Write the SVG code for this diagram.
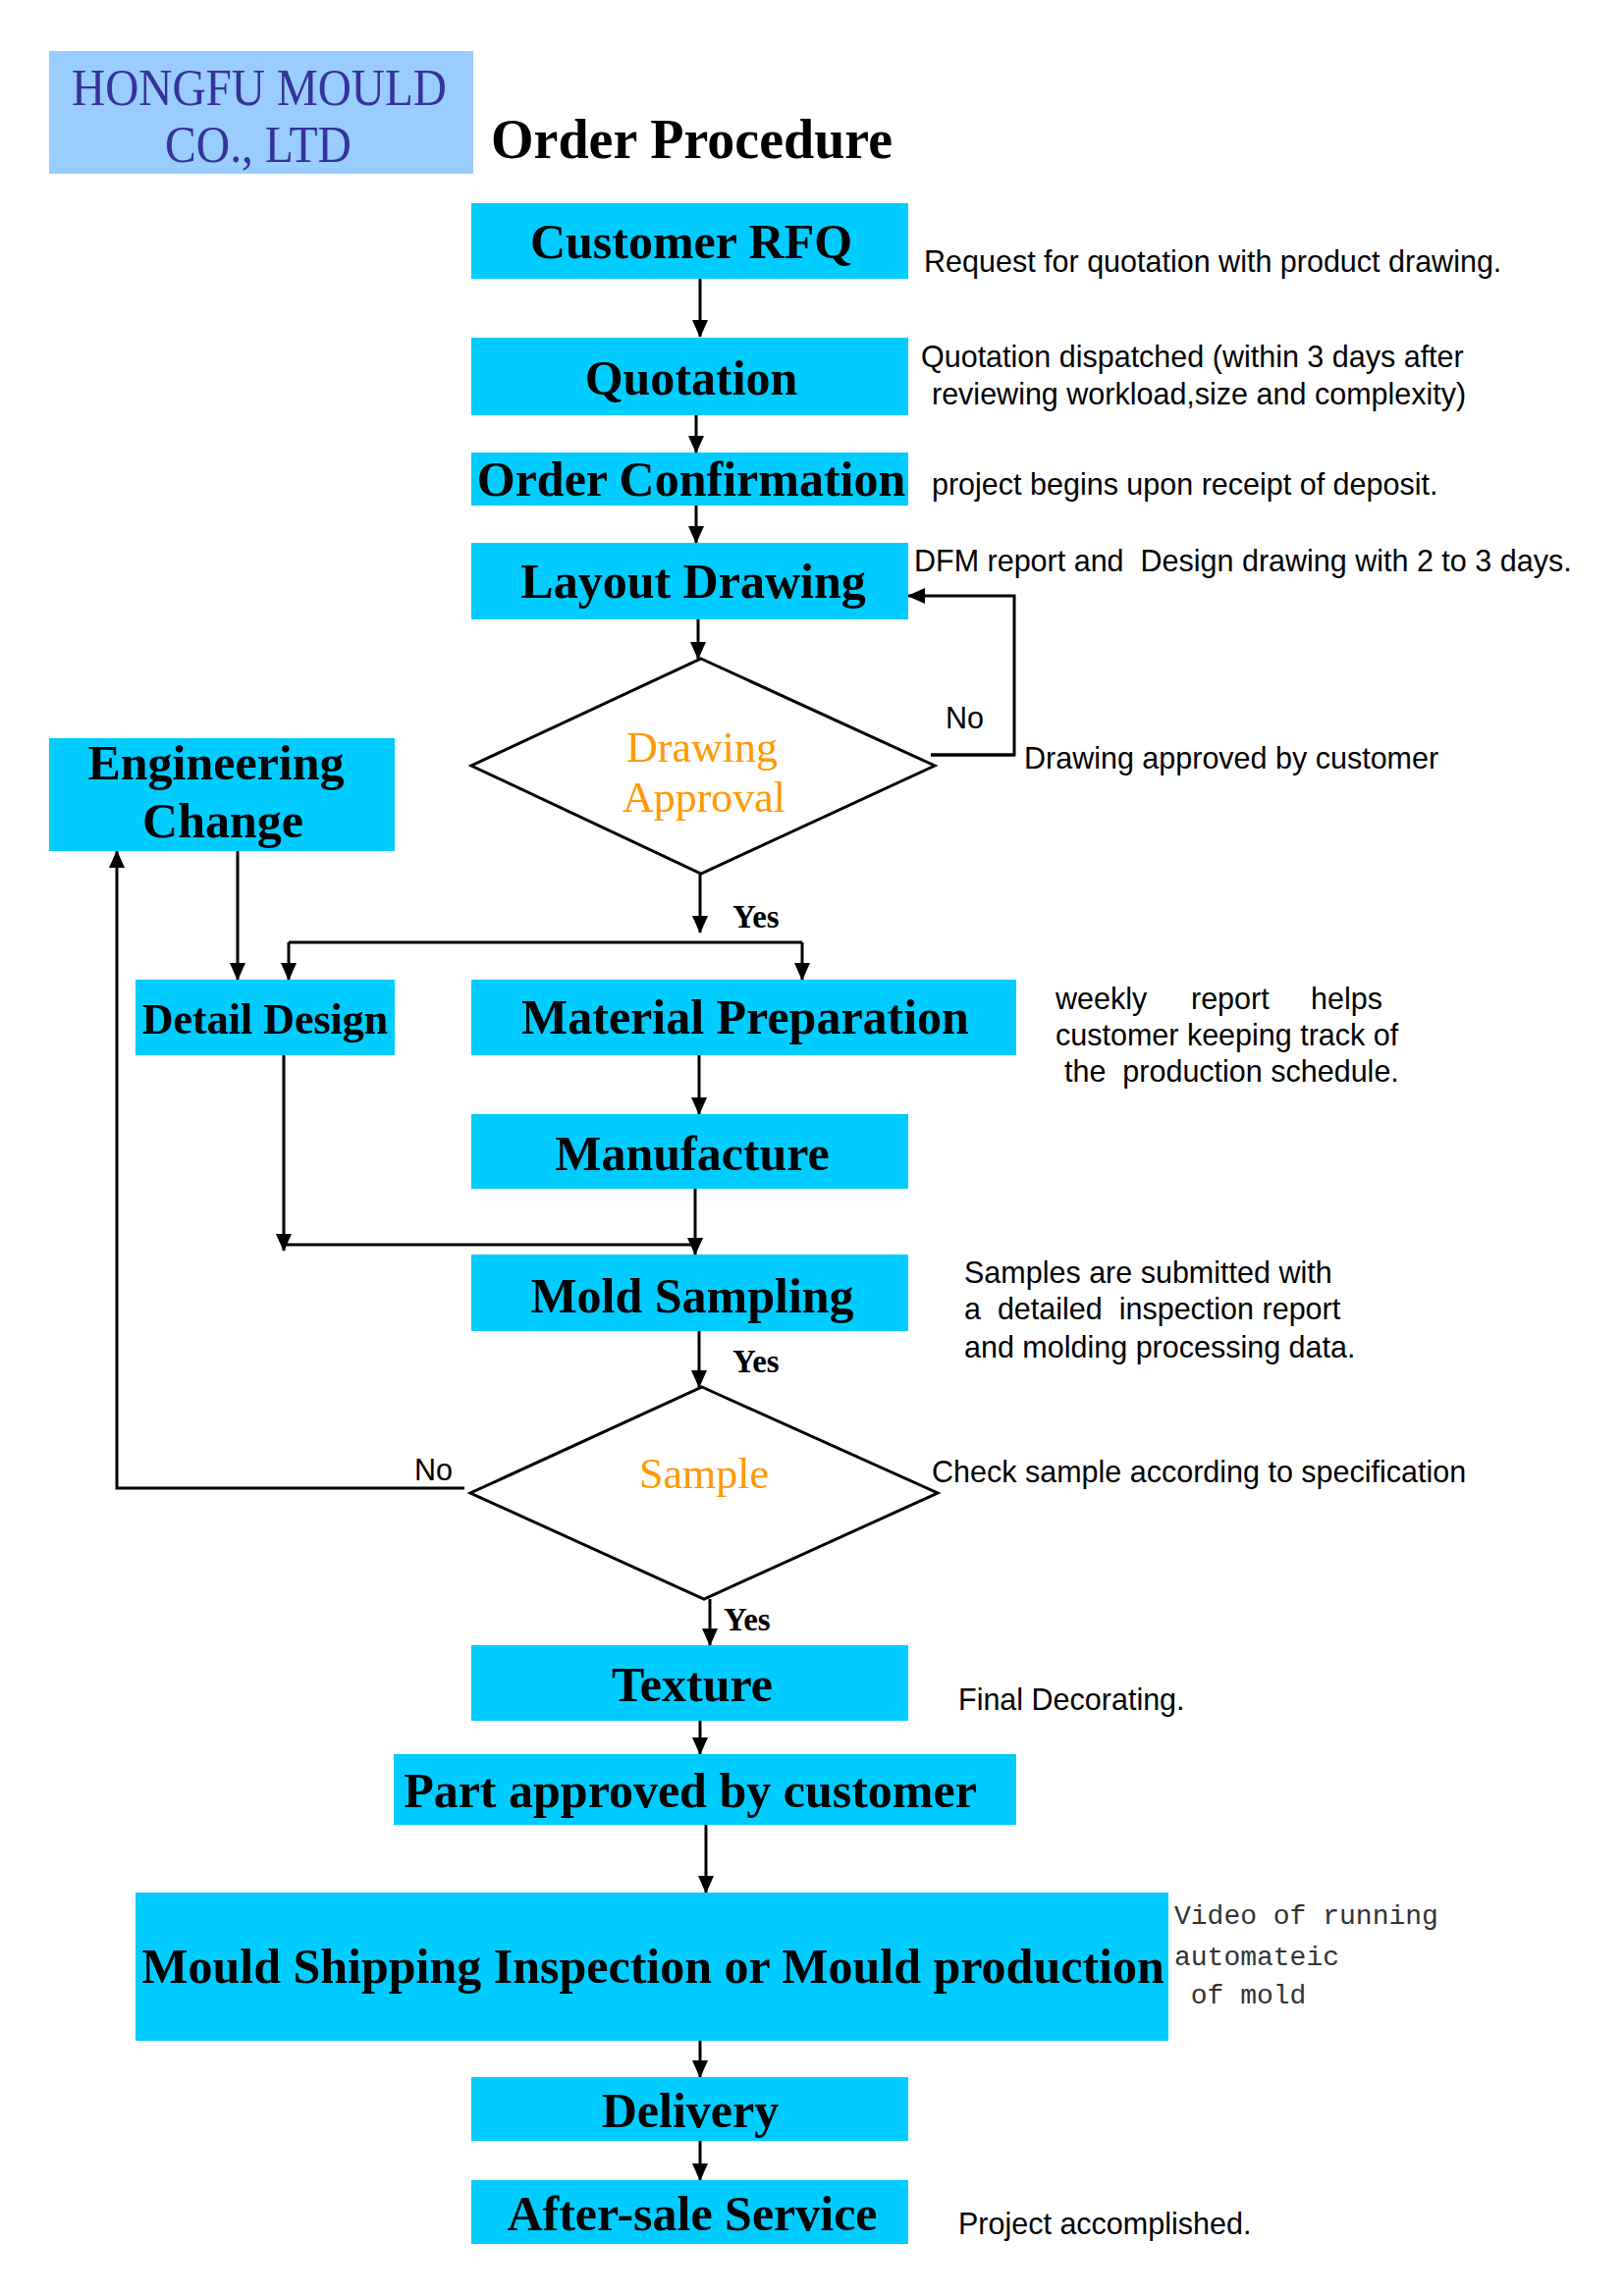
<svg xmlns="http://www.w3.org/2000/svg" width="1654" height="2339" viewBox="0 0 1654 2339">
<style>
.box{fill:#00CCFF}
.t{font-family:"Liberation Serif","Times New Roman",serif;font-weight:bold;font-size:50px;fill:#000;text-anchor:middle}
.n{font-family:"Liberation Sans",Arial,sans-serif;font-size:30.5px;fill:#000;white-space:pre}
.o{font-family:"Liberation Serif","Times New Roman",serif;font-size:44px;fill:#FF9900;text-anchor:middle}
.y{font-family:"Liberation Serif","Times New Roman",serif;font-weight:bold;font-size:33px;fill:#000}
.m{font-family:"Liberation Mono","Courier New",monospace;font-size:28px;fill:#333;white-space:pre}
.h{font-family:"Liberation Serif","Times New Roman",serif;font-size:53px;fill:#333399}
.c{fill:none;stroke:#000;stroke-width:3}
.d{fill:#fff;stroke:#000;stroke-width:3}
</style>
<defs>
<marker id="ah" markerUnits="userSpaceOnUse" markerWidth="18" markerHeight="16" refX="17" refY="8" orient="auto" viewBox="0 0 18 16">
<path d="M0,0 L18,8 L0,16 Z" fill="#000"/>
</marker>
</defs>
<rect width="1654" height="2339" fill="#fff"/>
<g id="header">
<rect x="50" y="52" width="432" height="125" fill="#99CCFF"/>
<text class="h" x="73" y="107" textLength="382" lengthAdjust="spacingAndGlyphs">HONGFU MOULD</text>
<text class="h" x="168" y="165" textLength="190" lengthAdjust="spacingAndGlyphs">CO., LTD</text>
</g>
<text id="title" x="500" y="161" font-family="Liberation Serif,Times New Roman,serif" font-weight="bold" font-size="56">Order Procedure</text>
<g id="connectors">
<path class="c" d="M713,284 V343" marker-end="url(#ah)"/>
<path class="c" d="M709,423 V461" marker-end="url(#ah)"/>
<path class="c" d="M709,515 V553" marker-end="url(#ah)"/>
<path class="c" d="M711,631 V671" marker-end="url(#ah)"/>
<path class="c" d="M948,769 H1033 V607 H925" marker-end="url(#ah)"/>
<path class="c" stroke-width="5" d="M948,769 H1033"/>
<path class="c" d="M713,890 V950" marker-end="url(#ah)"/>
<path class="c" d="M294,960 H817"/>
<path class="c" d="M294,960 V998" marker-end="url(#ah)"/>
<path class="c" d="M817,960 V998" marker-end="url(#ah)"/>
<path class="c" d="M242,867 V998" marker-end="url(#ah)"/>
<path class="c" d="M712,1075 V1135" marker-end="url(#ah)"/>
<path class="c" d="M289,1075 V1274" marker-end="url(#ah)"/>
<path class="c" d="M289,1268 H708"/>
<path class="c" d="M708,1211 V1278" marker-end="url(#ah)"/>
<path class="c" d="M712,1356 V1413" marker-end="url(#ah)"/>
<path class="c" d="M473,1516 H119 V867" marker-end="url(#ah)"/>
<path class="c" d="M723,1629 V1676" marker-end="url(#ah)"/>
<path class="c" d="M713,1753 V1787" marker-end="url(#ah)"/>
<path class="c" d="M719,1859 V1928" marker-end="url(#ah)"/>
<path class="c" d="M713,2079 V2116" marker-end="url(#ah)"/>
<path class="c" d="M713,2181 V2221" marker-end="url(#ah)"/>
</g>
<g id="rfq"><rect class="box" x="480" y="207" width="445" height="77"/><text class="t" x="704" y="263">Customer RFQ</text></g>
<g id="quotation"><rect class="box" x="480" y="344" width="445" height="79"/><text class="t" x="704" y="402">Quotation</text></g>
<g id="order"><rect class="box" x="480" y="461" width="445" height="54"/><text class="t" x="704" y="505">Order Confirmation</text></g>
<g id="layout"><rect class="box" x="480" y="553" width="445" height="78"/><text class="t" x="706" y="609">Layout Drawing</text></g>
<g id="approval"><polygon class="d" points="714,671 952,780 714,890 480,780"/><text class="o" x="715" y="776">Drawing</text><text class="o" x="717" y="827">Approval</text></g>
<g id="eng"><rect class="box" x="50" y="752" width="352" height="115"/><text class="t" x="220" y="794">Engineering</text><text class="t" x="227" y="853">Change</text></g>
<g id="detail"><rect class="box" x="138" y="998" width="264" height="77"/><text class="t" x="270" y="1053" style="font-size:44px">Detail Design</text></g>
<g id="material"><rect class="box" x="480" y="998" width="555" height="77"/><text class="t" x="759" y="1053">Material Preparation</text></g>
<g id="manufacture"><rect class="box" x="480" y="1135" width="445" height="76"/><text class="t" x="705" y="1192">Manufacture</text></g>
<g id="sampling"><rect class="box" x="480" y="1278" width="445" height="78"/><text class="t" x="705" y="1337">Mold Sampling</text></g>
<g id="sample"><polygon class="d" points="715,1413 955,1521 717,1629 479,1521"/><text class="o" x="717" y="1516">Sample</text></g>
<g id="texture"><rect class="box" x="480" y="1676" width="445" height="77"/><text class="t" x="705" y="1733">Texture</text></g>
<g id="part"><rect class="box" x="401" y="1787" width="634" height="72"/><text class="t" x="703" y="1841">Part approved by customer</text></g>
<g id="shipping"><rect class="box" x="138" y="1928" width="1052" height="151"/><text class="t" x="665" y="2020">Mould Shipping Inspection or Mould production</text></g>
<g id="delivery"><rect class="box" x="480" y="2116" width="445" height="65"/><text class="t" x="703" y="2167">Delivery</text></g>
<g id="aftersale"><rect class="box" x="480" y="2221" width="445" height="65"/><text class="t" x="705" y="2272">After-sale Service</text></g>
<g id="labels">
<text class="n" x="963" y="742">No</text>
<text class="y" x="746" y="945">Yes</text>
<text class="y" x="746" y="1398">Yes</text>
<text class="n" x="422" y="1508">No</text>
<text class="y" x="737" y="1661">Yes</text>
</g>
<g id="notes">
<text class="n" x="941" y="277">Request for quotation with product drawing.</text>
<text class="n" x="938" y="374">Quotation dispatched (within 3 days after</text>
<text class="n" x="949" y="412">reviewing workload,size and complexity)</text>
<text class="n" x="949" y="504">project begins upon receipt of deposit.</text>
<text class="n" x="931" y="582">DFM report and  Design drawing with 2 to 3 days.</text>
<text class="n" x="1043" y="783">Drawing approved by customer</text>
<text class="n" y="1028"><tspan x="1075">weekly</tspan><tspan x="1213">report</tspan><tspan x="1335">helps</tspan></text>
<text class="n" x="1075" y="1065">customer keeping track of</text>
<text class="n" x="1084" y="1102">the  production schedule.</text>
<text class="n" x="982" y="1307">Samples are submitted with</text>
<text class="n" x="982" y="1344">a  detailed  inspection report</text>
<text class="n" x="982" y="1383">and molding processing data.</text>
<text class="n" x="949" y="1510">Check sample according to specification</text>
<text class="n" x="976" y="1742">Final Decorating.</text>
<text class="m" x="1196" y="1960">Video of running</text>
<text class="m" x="1196" y="2002">automateic</text>
<text class="m" x="1196" y="2041"> of mold</text>
<text class="n" x="976" y="2276">Project accomplished.</text>
</g>
</svg>
